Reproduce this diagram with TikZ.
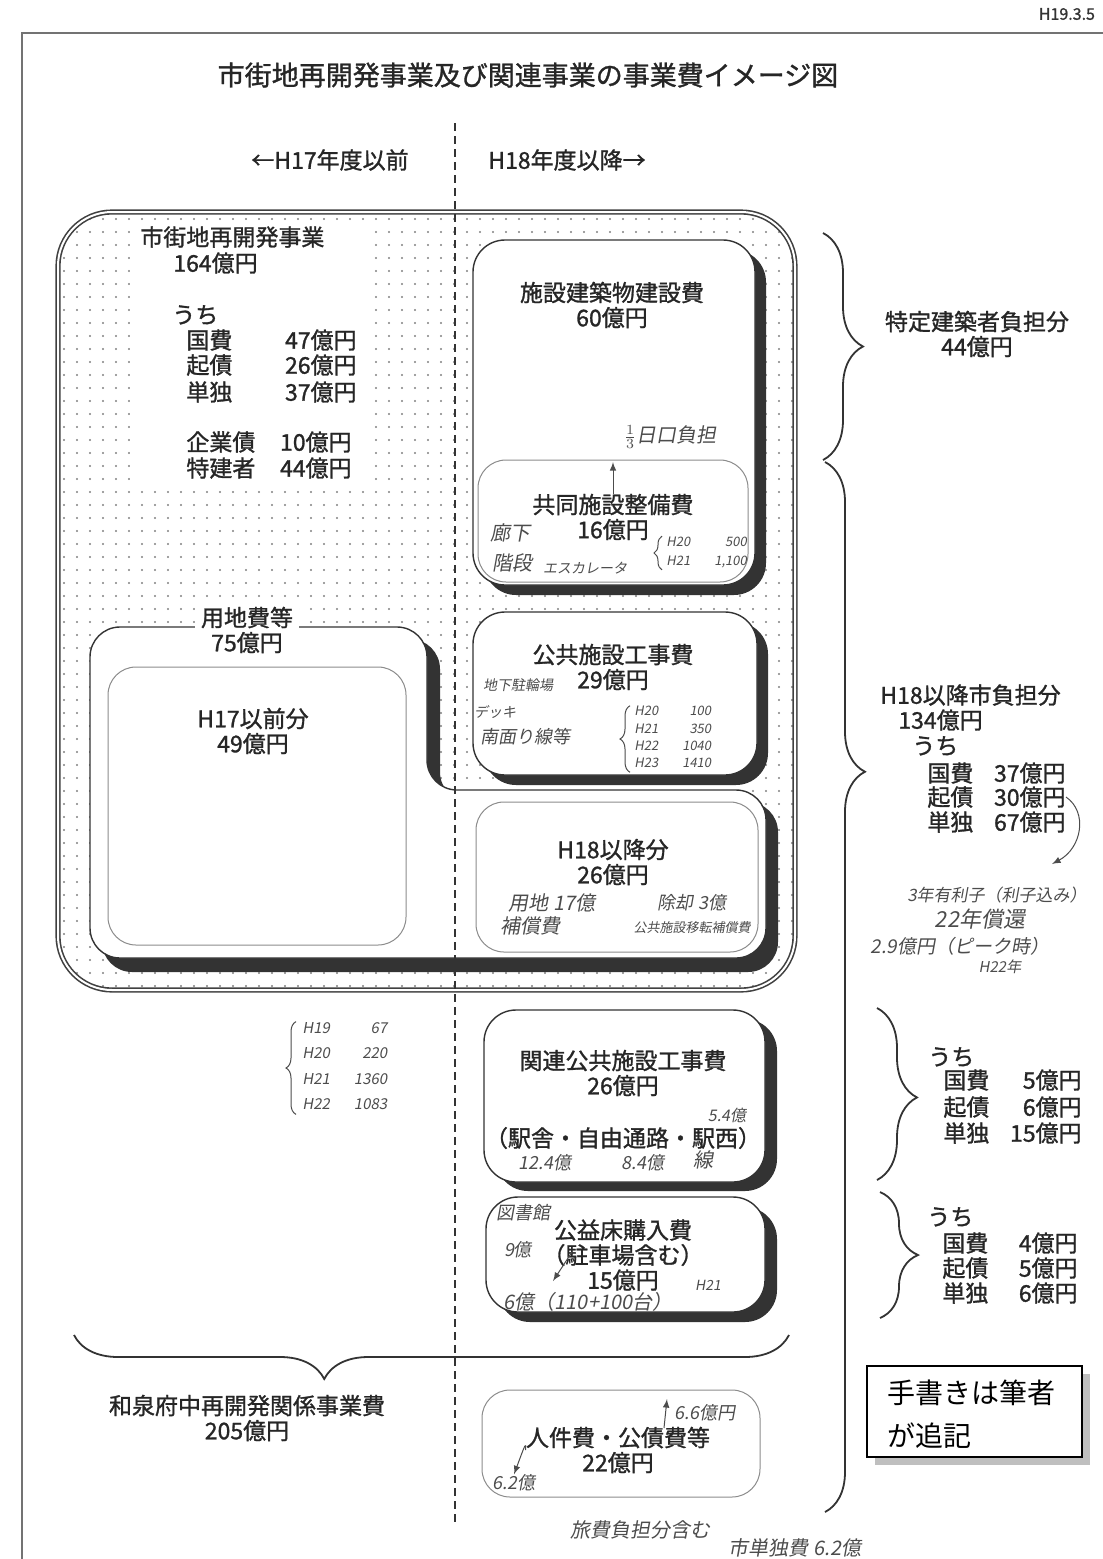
\documentclass[tikz,border=0pt]{standalone}
\usepackage{fontspec}
\setmainfont[FakeBold=1.2]{Noto Sans CJK JP}
\newfontfamily\notefont{Noto Sans CJK JP}
\newfontfamily\handfont[FakeSlant=0.18]{Noto Sans CJK JP}
\usetikzlibrary{decorations.pathreplacing}
\newcommand{\yrlist}[1]{\begin{tabular}{@{}l@{\hspace{12pt}}r@{}}#1\end{tabular}}

\begin{document}
\begin{tikzpicture}[>=latex, x=0.5pt, y=-0.5pt,
  lbl/.style={font=\fontsize{11.5}{12.5}\selectfont, align=center, inner sep=0pt, text=black!85},
  hand/.style={font=\handfont\fontsize{#1}{#1}\selectfont, text=black!70, inner sep=0pt, align=center},
  hand/.default=9,
  handline/.style={black!70, line width=0.5pt},
  costbox/.style={draw=black!80, line width=0.7pt, fill=white, rounded corners=16pt},
  subbox/.style={draw=black!45, line width=0.5pt, rounded corners=14pt},
  dropshade/.style={fill=black!80, rounded corners=16pt},
  curly/.style 2 args={decorate, decoration={brace, amplitude=#1, aspect=#2}, draw=black!80, line width=0.9pt},
  frameline/.style={draw=black!55, line width=1.2pt}]
\useasboundingbox (0,0) rectangle (1103,1559);

% frame and heading
\draw[frameline] (1103,33) -- (22,33) -- (22,1559);
\node[anchor=east, font=\fontsize{8}{9}\selectfont, text=black!80] (date) at (1102,14) {H19.3.5};
\node[font=\fontsize{13.5}{15}\selectfont, text=black!85] (title) at (528,75) {市街地再開発事業及び関連事業の事業費イメージ図};
\node[lbl] (before) at (330,160) {←H17年度以前};
\node[lbl] (after) at (567,160) {H18年度以降→};

% dotted 市街地再開発事業 box
\begin{scope}
  \clip[rounded corners=27pt] (58,212) rectangle (795,990);
  \foreach \x in {64,77,...,795}
    \foreach \y in {219,232,...,990}
      \fill[black!50] (\x,\y) circle (0.6pt);
\end{scope}
\draw[rounded corners=27pt, draw=black!75, line width=0.8pt, double=white, double distance=1pt] (58,212) rectangle (795,990);
\fill[white] (130,227) rectangle (372,488);

\node[lbl, anchor=west] (shigai) at (140,237) {市街地再開発事業};
\node[lbl, anchor=west] (shigaiv) at (173,263) {164億円};
\node[lbl, anchor=west] (uchiA) at (172,315) {うち};
\node[lbl, anchor=west] (kokuA) at (186,340) {国費};
\node[lbl, anchor=east] (kokuAv) at (357,340) {47億円};
\node[lbl, anchor=west] (kisaiA) at (186,365) {起債};
\node[lbl, anchor=east] (kisaiAv) at (357,365) {26億円};
\node[lbl, anchor=west] (tanA) at (186,392) {単独};
\node[lbl, anchor=east] (tanAv) at (357,392) {37億円};
\node[lbl, anchor=west] (kigyo) at (186,442) {企業債};
\node[lbl, anchor=east] (kigyov) at (352,442) {10億円};
\node[lbl, anchor=west] (tokken) at (186,468) {特建者};
\node[lbl, anchor=east] (tokkenv) at (352,468) {44億円};

% 施設建築物建設費
\fill[dropshade] (484,250) rectangle (766,595);
\draw[costbox] (473,240) rectangle (755,585);
\draw[subbox] (478,460) rectangle (748,582);
\node[lbl] (shisetsu) at (612,305) {施設建築物建設費\\60億円};
\node[lbl] (kyodo) at (613,517) {共同施設整備費\\16億円};

% 公共施設工事費
\fill[dropshade] (484,622) rectangle (768,785);
\draw[costbox] (473,612) rectangle (757,775);
\node[lbl] (kokyo) at (613,667) {公共施設工事費\\29億円};

% 用地費等
\fill[dropshade, rounded corners=15pt] (102,639) -- (440,639) -- (440,802) -- (778,802) -- (778,972) -- (102,972) -- cycle;
\draw[costbox, rounded corners=15pt] (90,627) -- (427,627) -- (427,790) -- (766,790) -- (766,958) -- (90,958) -- cycle;
\node[lbl, fill=white, inner sep=3pt] (yochi) at (247,630) {用地費等\\75億円};
\draw[subbox] (108,667) rectangle (406,945);
\node[lbl] (mae) at (253,731) {H17以前分\\49億円};
\draw[subbox] (476,802) rectangle (758,952);
\node[lbl] (ato) at (613,862) {H18以降分\\26億円};

% 関連公共施設工事費, 公益床購入費
\fill[dropshade] (496,1019) rectangle (777,1191);
\draw[costbox] (484,1010) rectangle (765,1182);
\node[lbl] (kanren) at (623,1073) {関連公共施設工事費\\26億円};
\node[lbl] (ekisha) at (623,1138) {（駅舎・自由通路・駅西）};
\fill[dropshade] (498,1207) rectangle (777,1322);
\draw[costbox] (486,1197) rectangle (765,1312);
\node[lbl] (koueki) at (623,1255) {公益床購入費\\（駐車場含む）\\15億円};

% 人件費・公債費等
\draw[subbox] (482,1390) rectangle (760,1497);
\node[lbl] (jinken) at (618,1450) {人件費・公債費等\\22億円};

% braces
\draw[curly={22pt}{0.65}] (789,1335) -- (74,1335);
\node[lbl] (izumi) at (247,1418) {和泉府中再開発関係事業費\\205億円};
\draw[curly={20pt}{0.5}] (823,233) -- (823,460);
\draw[curly={20pt}{0.295}] (825,462) -- (825,1512);
\draw[curly={20pt}{0.52}] (877,1008) -- (877,1180);
\draw[curly={19pt}{0.5}] (880,1192) -- (880,1318);

% right column
\node[lbl] (tokutei) at (977,334) {特定建築者負担分\\44億円};
\node[lbl, anchor=west] (shifutan) at (880,695) {H18以降市負担分};
\node[lbl, anchor=west] (shifutanv) at (898,720) {134億円};
\node[lbl, anchor=west] (uchiB) at (912,746) {うち};
\node[lbl, anchor=west] (kokuB) at (927,773) {国費};
\node[lbl, anchor=east] (kokuBv) at (1066,773) {37億円};
\node[lbl, anchor=west] (kisaiB) at (927,797) {起債};
\node[lbl, anchor=east] (kisaiBv) at (1066,797) {30億円};
\node[lbl, anchor=west] (tanB) at (927,822) {単独};
\node[lbl, anchor=east] (tanBv) at (1066,822) {67億円};

\node[lbl, anchor=west] (uchiC) at (928,1057) {うち};
\node[lbl, anchor=west] (kokuC) at (943,1080) {国費};
\node[lbl, anchor=east] (kokuCv) at (1082,1080) {5億円};
\node[lbl, anchor=west] (kisaiC) at (943,1107) {起債};
\node[lbl, anchor=east] (kisaiCv) at (1082,1107) {6億円};
\node[lbl, anchor=west] (tanC) at (943,1133) {単独};
\node[lbl, anchor=east] (tanCv) at (1082,1133) {15億円};

\node[lbl, anchor=west] (uchiD) at (927,1217) {うち};
\node[lbl, anchor=west] (kokuD) at (942,1243) {国費};
\node[lbl, anchor=east] (kokuDv) at (1078,1243) {4億円};
\node[lbl, anchor=west] (kisaiD) at (942,1268) {起債};
\node[lbl, anchor=east] (kisaiDv) at (1078,1268) {5億円};
\node[lbl, anchor=west] (tanD) at (942,1293) {単独};
\node[lbl, anchor=east] (tanDv) at (1078,1293) {6億円};

% note box
\fill[black!25] (875,1374) rectangle (1090,1465);
\draw[fill=white, line width=0.8pt] (867,1366) rectangle (1082,1457);
\node[anchor=west, font=\notefont\fontsize{14}{16}\selectfont] (note1) at (880,1393) {手書きは筆者};
\node[anchor=west, font=\notefont\fontsize{14}{16}\selectfont] (note2) at (880,1436) {が追記};

% divider
\draw[dash pattern=on 4pt off 2.5pt, line width=0.7pt, black!80] (455,123) -- (455,1522);

% handwritten notes
\node[hand=10] (futan) at (670,437) {$\frac{1}{3}$日口負担};
\coordinate (kyotop) at (613,462);
\draw[->, handline] (kyodo.north) -- (kyotop);
\node[hand=10] (rouka) at (510,533) {廊下};
\node[hand=10] (kaidan) at (512,563) {階段};
\node[hand=7] (escal) at (585,568) {エスカレータ};
\node[hand=6.5, anchor=west] (kyoyr) at (666,553) {\yrlist{H20 & 500\\[3pt] H21 & 1,100}};
\draw[curly={4pt}{0.5}, handline] ([xshift=-2pt]kyoyr.south west) -- ([xshift=-2pt]kyoyr.north west);

\node[hand=7] (chika) at (518,685) {地下駐輪場};
\node[hand=7] (deck) at (495,712) {デッキ};
\node[hand=9] (minami) at (525,737) {南面り線等};
\node[hand=6.5, anchor=west] (kokyr) at (634,739) {\yrlist{H20 & 100\\[2pt] H21 & 350\\[2pt] H22 & 1040\\[2pt] H23 & 1410}};
\draw[curly={5pt}{0.5}, handline] ([xshift=-2pt]kokyr.south west) -- ([xshift=-2pt]kokyr.north west);

\node[hand=10] (yochi17) at (552,903) {用地\ 17億};
\node[hand=10] (hosho) at (530,926) {補償費};
\node[hand=9] (jokyaku) at (692,903) {除却\ 3億};
\node[hand=6.5] (kokyoiten) at (692,928) {公共施設移転補償費};

\node[hand=7.5, anchor=west] (yrleft) at (302,1068) {\yrlist{H19 & 67\\[5pt] H20 & 220\\[5pt] H21 & 1360\\[5pt] H22 & 1083}};
\draw[curly={5pt}{0.5}, handline] ([xshift=-3pt]yrleft.south west) -- ([xshift=-3pt]yrleft.north west);

\node[hand=8] (k54) at (727,1115) {5.4億};
\node[hand=9] (k124) at (545,1163) {12.4億};
\node[hand=9] (k84) at (643,1163) {8.4億};
\node[hand=10] (ksen) at (703,1160) {線};

\node[hand=9] (tosho) at (523,1213) {図書館};
\node[hand=9] (k9) at (518,1250) {9億};
\node[hand=10] (k6) at (588,1302) {6億（110+100台）};
\node[hand=7] (h21) at (708,1285) {H21};
\coordinate (pkStart) at (572,1252);
\coordinate (pkEnd) at (553,1281);
\draw[->, handline] (pkStart) -- (pkEnd);

\node[hand=8.5] (yuurishi) at (997,895) {3年有利子（利子込み）};
\node[hand=11] (shokan) at (980,919) {22年償還};
\node[hand=9.5] (peak) at (960,946) {2.9億円（ピーク時）};
\node[hand=7.5] (h22) at (1000,967) {H22年};
\coordinate (yrArrow) at (1052,864);
\draw[->, handline] (kisaiBv.east) .. controls (1088,812) and (1082,848) .. (yrArrow);

\node[hand=9, anchor=west] (j66) at (674,1413) {6.6億円};
\coordinate (j66a) at (664,1428);
\coordinate (j66b) at (667,1399);
\draw[->, handline] (j66a) -- (j66b);
\node[hand=9] (j62) at (514,1483) {6.2億};
\draw[->, handline] (jinken.west) .. controls (526,1442) .. (j62.north);

\node[hand=10] (ryohi) at (640,1530) {旅費負担分含む};
\node[hand=10] (tandoku) at (795,1548) {市単独費\ 6.2億};
\end{tikzpicture}
\end{document}
